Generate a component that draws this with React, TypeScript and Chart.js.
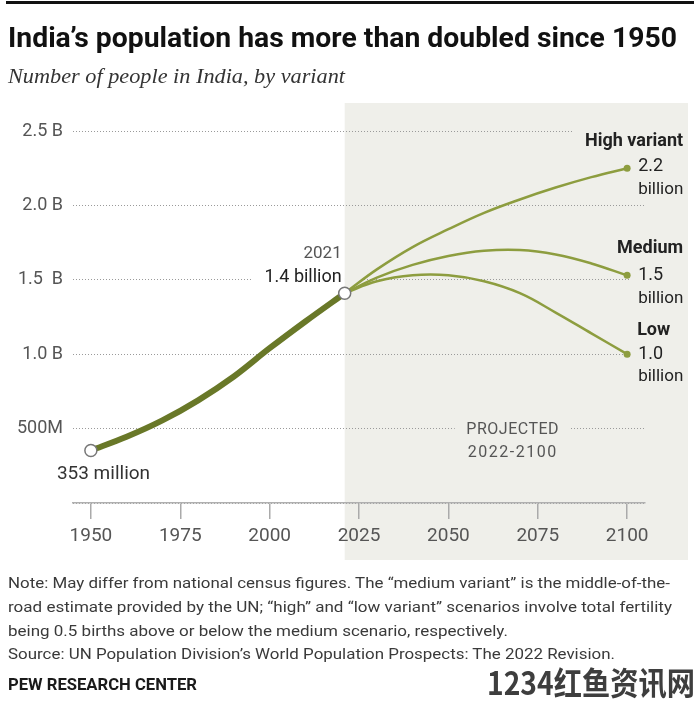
import React, { useEffect, useLayoutEffect, useRef } from 'react';
import { Chart, registerables } from 'chart.js';

Chart.register(...registerables);

const histYears = [1950, 1960, 1970, 1980, 1990, 2000, 2010, 2021];
const histPop = [0.353, 0.445, 0.555, 0.69, 0.85, 1.04, 1.22, 1.41];
const projYears = [2021, 2030, 2040, 2050, 2060, 2070, 2080, 2090, 2100];
const highPop = [1.41, 1.57, 1.72, 1.84, 1.95, 2.04, 2.12, 2.19, 2.25];
const mediumPop = [1.41, 1.515, 1.6, 1.66, 1.695, 1.7, 1.67, 1.61, 1.53];
const lowPop = [1.41, 1.49, 1.53, 1.53, 1.49, 1.41, 1.28, 1.14, 1.0];
const xTickYears = [1950, 1975, 2000, 2025, 2050, 2075, 2100];
const yTickValues = [0, 0.5, 1, 1.5, 2, 2.5];
const yTickLabels = ['', '500M', '1.0 B', '1.5  B', '2.0 B', '2.5 B'];

const GRAY_BG = '#efefea';
const HIST = '#697828';
const PROJ = '#8d9d3f';
const FONT = 'Roboto';

const noteLines = [
  'Note: May differ from national census figures. The \u201cmedium variant\u201d is the middle-of-the-',
  'road estimate provided by the UN; \u201chigh\u201d and \u201clow variant\u201d scenarios involve total fertility',
  'being 0.5 births above or below the medium scenario, respectively.',
  'Source: UN Population Division\u2019s World Population Prospects: The 2022 Revision.',
];
const noteWidths = [662, 664, 500, 607];
const noteCenters = [583, 607, 631, 654];

function FitText(props: { text: string; left: number; top: number; width: number; style: React.CSSProperties }) {
  const ref = useRef<HTMLSpanElement>(null);
  useLayoutEffect(() => {
    const el = ref.current;
    if (!el) return;
    const fit = () => {
      el.style.transform = 'none';
      const w = el.getBoundingClientRect().width;
      if (w > 0) el.style.transform = `scaleX(${props.width / w})`;
    };
    fit();
    if ((document as any).fonts && (document as any).fonts.ready) (document as any).fonts.ready.then(fit);
  }, [props.text, props.width]);
  return (
    <span
      ref={ref}
      style={{
        position: 'absolute',
        left: props.left,
        top: props.top,
        whiteSpace: 'pre',
        transformOrigin: '0 0',
        ...props.style,
      }}
    >
      {props.text}
    </span>
  );
}

function drawText(ctx: CanvasRenderingContext2D, text: string, x: number, y: number, font: string, color: string, align: CanvasTextAlign, spacing = '0px') {
  ctx.save();
  ctx.font = font;
  ctx.fillStyle = color;
  ctx.textAlign = align;
  ctx.textBaseline = 'middle';
  try { (ctx as any).letterSpacing = spacing; } catch (e) {}
  ctx.fillText(text, x, y);
  ctx.restore();
}

const annotationPlugin = {
  id: 'indiaAnnotations',
  beforeDraw(chart: any) {
    const { ctx, scales } = chart;
    const left = scales.x.getPixelForValue(2021);
    ctx.save();
    ctx.fillStyle = GRAY_BG;
    ctx.fillRect(left, 103, 688 - left, 560 - 103);
    ctx.restore();
  },
  beforeDatasetsDraw(chart: any) {
    const { ctx, scales } = chart;
    const { x, y } = scales;
    const split = x.getPixelForValue(2021);
    const xe = x.getPixelForValue(2100);
    const right = chart.chartArea.right + 2;
    ctx.save();
    const y15 = y.getPixelForValue(1.5);
    ctx.fillStyle = '#ffffff';
    ctx.fillRect(252, y15 - 2, split - 252, 4);
    ctx.fillStyle = GRAY_BG;
    ctx.fillRect(split, y15 - 2, 15, 4);
    ctx.fillRect(xe + 2, y15 - 2, right - xe - 2, 4);
    const y05 = y.getPixelForValue(0.5);
    const px = x.getPixelForValue(2068);
    ctx.fillRect(px - 58, y05 - 2, 116, 4);
    const y25 = y.getPixelForValue(2.5);
    ctx.fillRect(xe - 55, y25 - 2, right - xe + 55, 4);
    const y10 = y.getPixelForValue(1.0);
    ctx.fillRect(xe - 2, y10 - 2, right - xe + 2, 4);
    ctx.restore();
  },
  afterDatasetsDraw(chart: any) {
    const { ctx, scales } = chart;
    const { x, y } = scales;
    const xs = x.getPixelForValue(2021);
    const ys = y.getPixelForValue(histPop[histPop.length - 1]);
    const x0 = x.getPixelForValue(histYears[0]);
    const y0 = y.getPixelForValue(histPop[0]);
    const xe = x.getPixelForValue(2100);
    const dark = '#222222';
    const gray = '#555555';
    const reg = (s: number) => `400 ${s}px ${FONT}`;
    const bold = (s: number) => `700 ${s}px ${FONT}`;

    drawText(ctx, '2021', xs - 3, ys - 39, reg(17), gray, 'right');
    drawText(ctx, '1.4 billion', xs - 3, ys - 16, reg(18), dark, 'right');
    drawText(ctx, '353 million', x0 - 34, y0 + 24, reg(19), '#333333', 'left');

    const yh = y.getPixelForValue(highPop[highPop.length - 1]);
    drawText(ctx, 'High variant', xe + 56, yh - 27, bold(18), dark, 'right');
    drawText(ctx, '2.2', xe + 11, yh - 2, reg(18), dark, 'left');
    drawText(ctx, 'billion', xe + 11, yh + 22, reg(17), dark, 'left');

    const ym = y.getPixelForValue(mediumPop[mediumPop.length - 1]);
    drawText(ctx, 'Medium', xe + 56, ym - 27, bold(18), dark, 'right');
    drawText(ctx, '1.5', xe + 11, ym, reg(18), dark, 'left');
    drawText(ctx, 'billion', xe + 11, ym + 23, reg(17), dark, 'left');

    const yl = y.getPixelForValue(lowPop[lowPop.length - 1]);
    drawText(ctx, 'Low', xe + 10, yl - 24, bold(18), dark, 'left');
    drawText(ctx, '1.0', xe + 11, yl, reg(18), dark, 'left');
    drawText(ctx, 'billion', xe + 11, yl + 23, reg(17), dark, 'left');

    const px = x.getPixelForValue(2068);
    const py = y.getPixelForValue(0.5);
    drawText(ctx, 'PROJECTED', px, py + 1, reg(16), gray, 'center', '0.5px');
    drawText(ctx, '2022-2100', px, py + 24, reg(16), gray, 'center', '1.5px');
  },
};

function ChartCanvas() {
  const ref = useRef<HTMLCanvasElement>(null);
  useEffect(() => {
    if (!ref.current) return;
    const endRadius = (n: number) => Array.from({ length: n }, (_, i) => (i === n - 1 ? 3.5 : 0));
    const proj = (vals: number[], label: string) => ({
      label,
      data: projYears.map((yr, i) => ({ x: yr, y: vals[i] })),
      borderColor: PROJ,
      borderWidth: 2.5,
      tension: 0.4,
      pointRadius: endRadius(projYears.length),
      pointBackgroundColor: PROJ,
      pointBorderColor: PROJ,
      pointBorderWidth: 0,
      fill: false,
      order: 1,
    });
    const chart = new Chart(ref.current, {
      type: 'line',
      data: {
        datasets: [
          {
            label: 'Historical',
            data: histYears.map((yr, i) => ({ x: yr, y: histPop[i] })),
            borderColor: HIST,
            borderWidth: 6,
            cubicInterpolationMode: 'monotone',
            pointRadius: histYears.map((_, i) => (i === 0 || i === histYears.length - 1 ? 6 : 0)),
            pointBackgroundColor: '#ffffff',
            pointBorderColor: '#777777',
            pointBorderWidth: 1.5,
            borderCapStyle: 'round',
            fill: false,
            order: 0,
          },
          proj(highPop, 'High variant'),
          proj(mediumPop, 'Medium'),
          proj(lowPop, 'Low'),
        ],
      },
      options: {
        animation: false,
        responsive: false,
        maintainAspectRatio: false,
        layout: { padding: { left: 0, right: 55, top: 131, bottom: 151 } },
        plugins: { legend: { display: false }, tooltip: { enabled: false } },
        scales: {
          x: {
            type: 'linear',
            min: 1945,
            max: 2105,
            afterBuildTicks: (s: any) => {
              s.ticks = xTickYears.map((v) => ({ value: v }));
            },
            ticks: {
              font: { family: FONT, size: 19 },
              color: '#555555',
              padding: 6,
              maxRotation: 0,
              callback: (v: any) => String(v),
            },
            grid: { drawOnChartArea: false, drawTicks: true, tickLength: 16, color: '#aaaaaa', lineWidth: 1.5 },
            border: { display: true, color: '#b0b0b0', width: 1.5 },
            afterFit: (s: any) => {
              s.height = 50;
            },
          },
          y: {
            min: 0,
            max: 2.5,
            afterBuildTicks: (s: any) => {
              s.ticks = yTickValues.map((v) => ({ value: v }));
            },
            ticks: {
              font: { family: FONT, size: 18 },
              color: '#555555',
              padding: 10,
              callback: (v: any) => {
                const i = yTickValues.indexOf(Number(v));
                return i >= 0 ? yTickLabels[i] : '';
              },
            },
            grid: { color: '#9a9a9a', lineWidth: 1, drawTicks: false },
            border: { display: false, dash: [1, 2] },
            afterFit: (s: any) => {
              s.width = 73;
            },
          },
        },
      } as any,
      plugins: [annotationPlugin as any],
    });
    return () => chart.destroy();
  }, []);
  return <canvas ref={ref} width={700} height={704} style={{ position: 'absolute', left: 0, top: 0, width: 700, height: 704 }} />;
}

export default function App() {
  return (
    <div style={{ position: 'absolute', left: 0, top: 0, width: 700, height: 704, background: '#ffffff', overflow: 'hidden' }}>
      <ChartCanvas />
      <div style={{ position: 'absolute', left: 6, top: 1, width: 688, height: 3, background: '#111111' }} />
      <FitText
        text={'India\u2019s population has more than doubled since 1950'}
        left={8}
        top={21}
        width={669}
        style={{ fontFamily: FONT, fontWeight: 700, fontSize: 28, lineHeight: '34px', color: '#111111' }}
      />
      <FitText
        text="Number of people in India, by variant"
        left={8}
        top={63}
        width={337}
        style={{ fontFamily: '"Liberation Serif", serif', fontStyle: 'italic', fontSize: 20, lineHeight: '26px', color: '#333333' }}
      />
      {noteLines.map((t, i) => (
        <FitText
          key={i}
          text={t}
          left={8}
          top={noteCenters[i] - 10}
          width={noteWidths[i]}
          style={{ fontFamily: FONT, fontSize: 15, lineHeight: '20px', color: '#3a3a3a' }}
        />
      ))}
      <FitText
        text="PEW RESEARCH CENTER"
        left={8}
        top={674}
        width={189}
        style={{ fontFamily: FONT, fontWeight: 700, fontSize: 17, lineHeight: '20px', color: '#1a1a1a' }}
      />
      <FitText
        text="1234红鱼资讯网"
        left={487}
        top={661}
        width={208}
        style={{ fontFamily: '"Noto Sans CJK SC", sans-serif', fontWeight: 700, fontSize: 32, lineHeight: '40px', color: '#3e3e3e' }}
      />
    </div>
  );
}
